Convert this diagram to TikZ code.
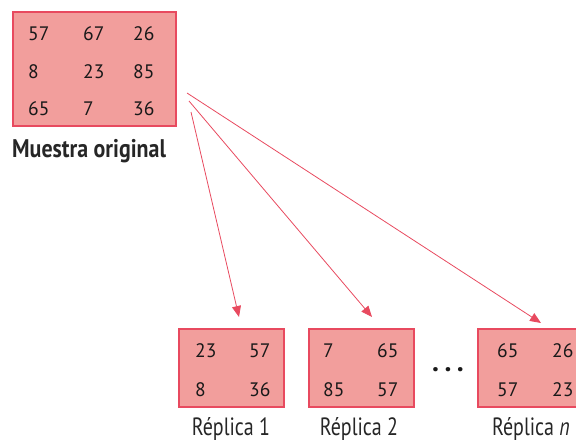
\documentclass[tikz,border=0pt]{standalone}
\usepackage{fontspec}
\usepackage{tikz}
\usetikzlibrary{arrows.meta}
\setmainfont{PT Sans}
\newfontfamily\condfont[FakeStretch=0.8, BoldFeatures={FakeStretch=0.86}]{PT Sans}
\definecolor{rojo}{RGB}{232,74,95}
\definecolor{rosa}{RGB}{242,158,156}

\begin{document}
\begin{tikzpicture}[x=1pt, y=-1pt,
    caja/.style={draw=rojo, line width=1.8pt, fill=rosa, inner sep=0pt},
    num/.style={anchor=base west, inner sep=0pt, font=\fontsize{19.5}{22}\selectfont, text=black!90},
    etiq/.style={anchor=base, inner sep=0pt, font=\condfont\fontsize{25}{28}\selectfont, text=black!85},
    flecha/.style={draw=rojo, line width=0.8pt, -{Triangle[length=11pt, width=9pt]}}]
    \useasboundingbox (0,0) rectangle (576,442); % the page
    % muestra original
    \node[caja, minimum width=163pt, minimum height=114pt] (orig) at (94.5,69) {};
    \foreach \a/\b/\c [count=\i] in {57/67/26, 8/23/85, 65/7/36} {
    \node[num] (o\i a) at (28, 2.5+37.75*\i) {\a};
    \node[num] (o\i b) at (83, 2.5+37.75*\i) {\b};
    \node[num] (o\i c) at (133, 2.5+37.75*\i) {\c};
    }
    \node[etiq, anchor=base west, font=\condfont\bfseries\fontsize{25.5}{28}\selectfont] (lorig) at (12,157) {Muestra original};
    % replicas
    \node[caja, minimum width=105pt, minimum height=78pt] (rep1) at (231.5,368) {};
    \node[caja, minimum width=105pt, minimum height=78pt] (rep2) at (361.5,368) {};
    \node[caja, minimum width=105pt, minimum height=78pt] (repn) at (530.5,368) {};
    \foreach \x/\y/\a/\b/\c/\d/\r in {195/249/23/57/8/36/1, 323/377/7/65/85/57/2, 497/552/65/26/57/23/n} {
    \node[num] (r\r a) at (\x,357.5) {\a};
    \node[num] (r\r b) at (\y,357.5) {\b};
    \node[num] (r\r c) at (\x,396.5) {\c};
    \node[num] (r\r d) at (\y,396.5) {\d};
    }
    \node[etiq] (lrep1) at (231,435) {Réplica 1};
    \node[etiq] (lrep2) at (359,435) {Réplica 2};
    \node[etiq] (lrepn) at (531,435) {Réplica \textit{n}};
    \node[anchor=base, inner sep=0pt, font=\bfseries\fontsize{28}{32}\selectfont, text=black!90] (puntos) at (448,371.5) {.\hspace{5.5pt}.\hspace{5.5pt}.};
    % flechas
    \coordinate (s1) at (191,112);
    \coordinate (s2) at (189,101);
    \coordinate (s3) at (187,93);
    \coordinate (t1) at (239,317);
    \coordinate (t2) at (372,317);
    \coordinate (t3) at (541,323);
    \draw[flecha] (s1) -- (t1);
    \draw[flecha] (s2) -- (t2);
    \draw[flecha] (s3) -- (t3);
\end{tikzpicture}
\end{document}
